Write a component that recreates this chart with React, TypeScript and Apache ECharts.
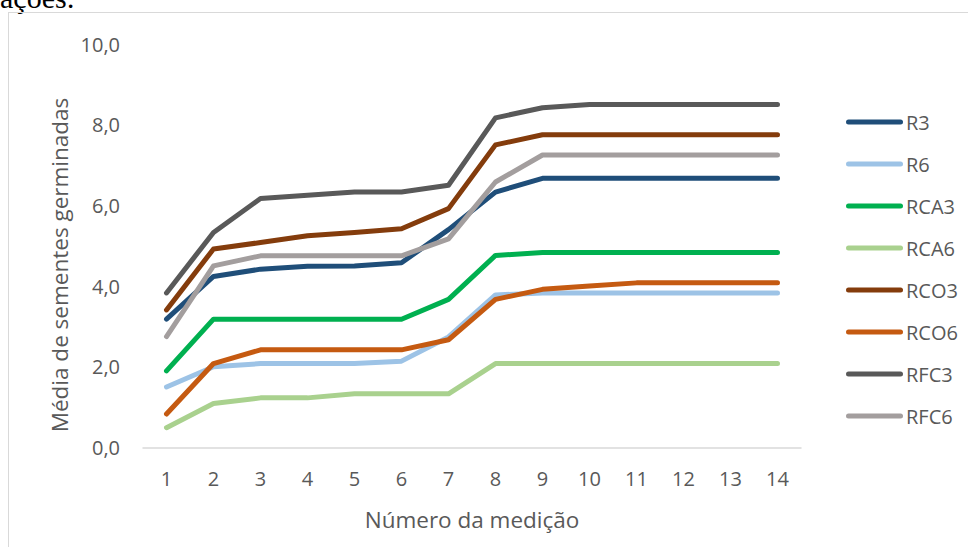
import React, { useEffect, useRef } from "react";
import * as echarts from "echarts";

const categories = ["1", "2", "3", "4", "5", "6", "7", "8", "9", "10", "11", "12", "13", "14"];
const yTicks = [0, 2, 4, 6, 8, 10];

const seriesNames = ["R3", "R6", "RCA3", "RCA6", "RCO3", "RCO6", "RFC3", "RFC6"];
const R3 = [3.18, 4.24, 4.42, 4.49, 4.5, 4.58, 5.4, 6.33, 6.67, 6.67, 6.67, 6.67, 6.67, 6.67];
const R6 = [1.5, 2.0, 2.08, 2.08, 2.08, 2.14, 2.74, 3.78, 3.83, 3.83, 3.83, 3.83, 3.83, 3.83];
const RCA3 = [1.9, 3.18, 3.18, 3.18, 3.18, 3.18, 3.67, 4.76, 4.83, 4.83, 4.83, 4.83, 4.83, 4.83];
const RCA6 = [0.49, 1.09, 1.23, 1.23, 1.33, 1.33, 1.33, 2.08, 2.08, 2.08, 2.08, 2.08, 2.08, 2.08];
const RCO3 = [3.41, 4.92, 5.08, 5.25, 5.33, 5.42, 5.92, 7.5, 7.75, 7.75, 7.75, 7.75, 7.75, 7.75];
const RCO6 = [0.83, 2.08, 2.42, 2.42, 2.42, 2.42, 2.67, 3.67, 3.92, 4.0, 4.08, 4.08, 4.08, 4.08];
const RFC3 = [3.83, 5.33, 6.17, 6.25, 6.33, 6.33, 6.5, 8.17, 8.42, 8.5, 8.5, 8.5, 8.5, 8.5];
const RFC6 = [2.75, 4.5, 4.75, 4.75, 4.75, 4.75, 5.17, 6.58, 7.25, 7.25, 7.25, 7.25, 7.25, 7.25];
const seriesValues = [R3, R6, RCA3, RCA6, RCO3, RCO6, RFC3, RFC6];
const seriesColors = ["#1f4e79", "#9dc3e6", "#00b050", "#a9d18e", "#843c0c", "#c55a11", "#595959", "#a39e9e"];

const xTitle = "Número da medição";
const yTitle = "Média de sementes germinadas";
const captionText = "ações:";

const FONT = "'Open Sans', 'Noto Sans', sans-serif";
const TXT = "#595959";

export default function App() {
  const ref = useRef<HTMLDivElement>(null);

  useEffect(() => {
    if (!ref.current) return;
    const chart = echarts.init(ref.current, undefined, { renderer: "svg" });
    chart.setOption({
      animation: false,
      backgroundColor: "transparent",
      textStyle: { fontFamily: FONT },
      grid: { left: 143, right: 167, top: 44, bottom: 99.5, containLabel: false },
      legend: {
        orient: "vertical",
        left: 841,
        top: 106,
        itemWidth: 57,
        itemHeight: 5,
        itemGap: 20,
        icon: "path://M2.5,0 H54.5 A2.5,2.5 0 0 1 54.5,5 H2.5 A2.5,2.5 0 0 1 2.5,0 Z",
        textStyle: { color: TXT, fontSize: 20, fontFamily: FONT, lineHeight: 22, padding: [0, 0, 0, -2] },
        data: seriesNames,
      },
      xAxis: {
        type: "category",
        data: categories,
        boundaryGap: true,
        axisLine: { show: true, lineStyle: { color: "#d9d9d9", width: 1.5 } },
        axisTick: { show: false },
        axisLabel: { color: TXT, fontSize: 20, fontFamily: FONT, margin: 21 },
        splitLine: { show: false },
      },
      yAxis: {
        type: "value",
        min: yTicks[0],
        max: yTicks[yTicks.length - 1],
        interval: 2,
        axisLine: { show: false },
        axisTick: { show: false },
        splitLine: { show: false },
        axisLabel: {
          color: TXT,
          fontSize: 20,
          fontFamily: FONT,
          margin: 23,
          formatter: (v: number) => v.toFixed(1).replace(".", ","),
        },
      },
      graphic: [
        {
          type: "text",
          x: 472,
          y: 519,
          style: { text: xTitle, fill: TXT, font: `22.5px ${FONT}`, align: "center", verticalAlign: "middle" },
        },
        {
          type: "text",
          x: 59,
          y: 265,
          rotation: Math.PI / 2,
          style: { text: yTitle, fill: TXT, font: `22.5px ${FONT}`, align: "center", verticalAlign: "middle" },
        },
      ],
      series: seriesNames.map((name, i) => ({
        name,
        type: "line",
        data: seriesValues[i],
        symbol: "none",
        showSymbol: false,
        color: seriesColors[i],
        lineStyle: { color: seriesColors[i], width: 5, cap: "round", join: "round" },
        emphasis: { disabled: true },
      })),
    });
    return () => chart.dispose();
  }, []);

  return (
    <div
      style={{
        position: "fixed",
        left: 0,
        top: 0,
        width: 968,
        height: 547,
        background: "#fff",
        overflow: "hidden",
      }}
    >
      <div
        style={{
          position: "absolute",
          left: 0,
          top: -16.8,
          fontFamily: "'Liberation Serif', serif",
          fontSize: 30,
          lineHeight: "30px",
          color: "#000",
          whiteSpace: "nowrap",
        }}
      >
        {captionText}
      </div>
      <div
        style={{
          position: "absolute",
          left: 7.5,
          top: 12,
          width: 1000,
          height: 600,
          border: "1.5px solid #d9d9d9",
          boxSizing: "border-box",
        }}
      />
      <div ref={ref} style={{ position: "absolute", left: 0, top: 0, width: 968, height: 547 }} />
    </div>
  );
}
